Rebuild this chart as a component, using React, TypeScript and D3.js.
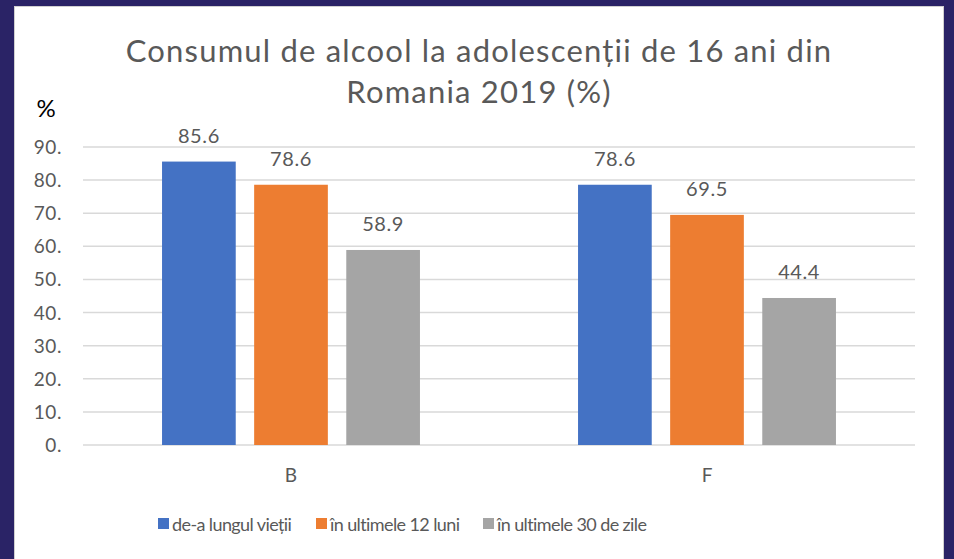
import React from "react";
import * as d3 from "d3";

const categories = ["B", "F"];
const seriesNames = ["de-a lungul vieții", "în ultimele 12 luni", "în ultimele 30 de zile"];
const lifetime = [85.6, 78.6];
const last12 = [78.6, 69.5];
const last30 = [58.9, 44.4];
const yTicks = [0, 10, 20, 30, 40, 50, 60, 70, 80, 90];
const titleLines = ["Consumul de alcool la adolescenții de 16 ani din", "Romania 2019 (%)"];
const colors = ["#4472C4", "#ED7D31", "#A5A5A5"];

const W = 954, H = 559;
const FONT = "Lato, 'Open Sans', sans-serif";

export default function App() {
  const values = [lifetime, last12, last30];
  const x0 = d3.scaleBand<string>().domain(categories).range([83, 915]).padding(0);
  const bw = x0.bandwidth();
  const x1 = d3.scaleBand<string>().domain(seriesNames).range([bw * 0.19, bw * 0.81]).paddingInner(0.2).paddingOuter(0);
  const y = d3.scaleLinear().domain([0, 90]).range([445, 147]);
  const legendX = [158, 316, 483];

  return (
    <svg width={W} height={H} style={{ position: "fixed", left: 0, top: 0, fontFamily: FONT }}>
      <rect x={0} y={0} width={W} height={H} fill="#2A2366" />
      <rect x={14.5} y={6.5} width={929} height={560} fill="#FFFFFF" stroke="#D0D0D0" />
      {titleLines.map((t, i) => (
        <text key={i} x={479} y={62 + i * 41} textAnchor="middle" fontSize={31} letterSpacing={1.2} fill="#595959">{t}</text>
      ))}
      <text x={46} y={117} textAnchor="middle" fontSize={24} fill="#000">%</text>
      {yTicks.map((t) => (
        <g key={t}>
          <line x1={83} x2={915} y1={y(t)} y2={y(t)} stroke="#D9D9D9" strokeWidth={1.5} />
          <text x={62} y={y(t) + 7} textAnchor="end" fontSize={19} letterSpacing={0.6} fill="#595959">{`${t}.`}</text>
        </g>
      ))}
      {categories.map((c, ci) => (
        <g key={c} transform={`translate(${x0(c)},0)`}>
          {seriesNames.map((s, si) => {
            const v = values[si][ci];
            return (
              <g key={s}>
                <rect x={x1(s)} y={y(v)} width={x1.bandwidth()} height={y(0) - y(v)} fill={colors[si]} />
                <text x={(x1(s) as number) + x1.bandwidth() / 2} y={y(v) - 19} textAnchor="middle" fontSize={20} letterSpacing={0.6} fill="#595959">{v.toFixed(1)}</text>
              </g>
            );
          })}
          <text x={bw / 2} y={482} textAnchor="middle" fontSize={19} fill="#595959">{c}</text>
        </g>
      ))}
      {seriesNames.map((s, i) => (
        <g key={s}>
          <rect x={legendX[i]} y={518} width={11} height={11} fill={colors[i]} />
          <text x={legendX[i] + 14} y={531} fontSize={18} letterSpacing={-0.6} fill="#595959">{s}</text>
        </g>
      ))}
    </svg>
  );
}
